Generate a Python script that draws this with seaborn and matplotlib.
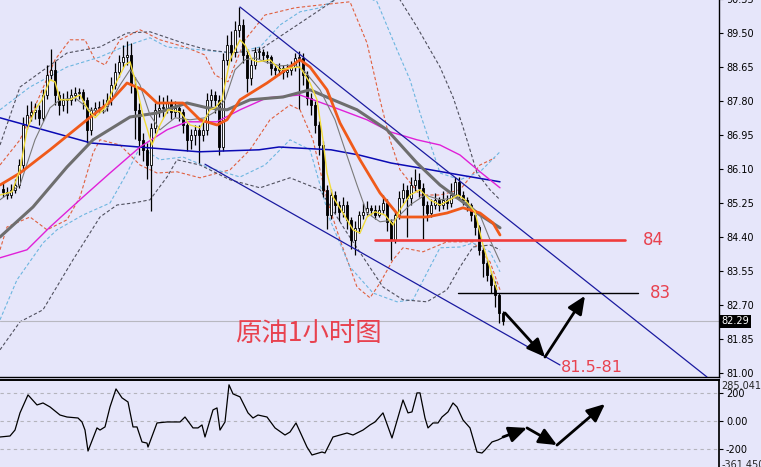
import matplotlib
matplotlib.use("Agg")
import matplotlib.pyplot as plt
import seaborn as sns

# -----------------------------
# Candles (crude oil, 1h) - bar index 0..125
# -----------------------------
open_first = 85.60
closes = [85.52, 85.45, 85.58, 85.70, 86.20, 87.20, 87.45, 87.52, 87.58, 87.38,
          87.95, 88.45, 88.58, 87.95, 87.70, 87.82, 87.82, 87.95, 88.00, 88.02,
          87.82, 87.07, 87.58, 87.62, 87.62, 87.68, 87.82, 88.20, 88.52, 88.78,
          88.90, 88.95, 88.20, 87.58, 86.82, 86.58, 86.20, 87.12, 87.58, 87.62,
          87.62, 87.75, 87.52, 87.62, 87.52, 87.20, 86.82, 86.95, 87.07, 86.95,
          87.07, 87.82, 87.95, 87.82, 86.65, 88.82, 89.20, 89.02, 89.58, 89.70,
          88.95, 88.38, 88.70, 89.02, 89.02, 88.95, 88.90, 88.62, 88.58, 88.62,
          88.52, 88.58, 88.65, 88.88, 88.88, 88.45, 87.88, 87.70, 87.20, 86.70,
          85.58, 84.95, 85.45, 85.20, 85.02, 85.20, 84.82, 84.32, 84.62, 84.95,
          85.02, 85.12, 85.08, 84.95, 85.08, 85.25, 84.78, 84.32, 84.95, 85.38,
          85.58, 85.38, 85.70, 85.82, 85.62, 85.20, 85.00, 85.20, 85.32, 85.20,
          85.32, 85.25, 85.45, 85.78, 85.45, 85.32, 85.20, 84.95, 84.65, 84.08,
          83.75, 83.45, 83.20, 82.95, 82.50, 82.29]
highs = [85.75, 85.65, 85.72, 85.85, 86.35, 87.40, 87.70, 87.80, 87.75, 87.70,
         88.10, 88.70, 89.10, 88.80, 88.05, 88.00, 88.05, 88.10, 88.15, 88.12,
         88.10, 87.90, 87.65, 87.78, 87.80, 87.85, 88.00, 88.40, 88.75, 88.95,
         89.20, 89.30, 89.25, 88.40, 87.75, 87.00, 86.75, 87.25, 87.75, 87.95,
         87.90, 87.95, 87.85, 87.80, 87.75, 87.60, 87.25, 87.10, 87.20, 87.20,
         87.30, 88.00, 88.10, 88.05, 87.95, 89.00, 89.45, 89.55, 89.80, 90.15,
         89.85, 89.05, 88.85, 89.15, 89.15, 89.10, 89.05, 88.95, 88.72, 88.75,
         88.70, 88.72, 88.80, 89.00, 89.05, 89.00, 88.55, 88.00, 87.80, 87.30,
         86.80, 85.70, 85.60, 85.55, 85.30, 85.40, 85.30, 84.90, 84.80, 85.05,
         85.25, 85.30, 85.20, 85.20, 85.20, 85.45, 85.35, 84.85, 85.05, 85.55,
         85.75, 85.70, 85.90, 86.10, 86.00, 85.75, 85.30, 85.35, 85.50, 85.40,
         85.55, 85.45, 85.75, 85.90, 85.90, 85.55, 85.40, 85.25, 85.05, 84.70,
         84.20, 83.85, 83.55, 83.30, 83.00, 82.55]
lows = [85.40, 85.35, 85.38, 85.50, 85.62, 86.10, 87.10, 87.30, 87.35, 87.20,
        87.30, 87.85, 88.35, 87.70, 87.45, 87.55, 87.50, 87.70, 87.80, 87.85,
        87.60, 86.75, 86.95, 87.45, 87.50, 87.50, 87.55, 87.70, 88.10, 88.40,
        88.65, 88.70, 88.00, 86.85, 86.45, 86.30, 85.85, 85.05, 87.00, 87.40,
        87.40, 87.50, 87.35, 87.40, 87.30, 87.00, 86.55, 86.60, 86.70, 86.25,
        86.80, 86.95, 87.65, 87.50, 86.45, 86.55, 88.70, 88.80, 88.90, 89.40,
        88.75, 88.02, 88.20, 88.60, 88.85, 88.80, 88.75, 88.45, 88.45, 88.45,
        88.35, 88.40, 88.45, 88.55, 87.60, 88.20, 87.70, 87.45, 87.00, 86.45,
        85.40, 84.60, 84.85, 85.00, 84.80, 84.90, 84.60, 84.10, 83.95, 84.50,
        84.85, 84.95, 84.95, 84.85, 84.90, 85.00, 84.55, 83.82, 84.25, 84.85,
        85.25, 84.40, 85.20, 85.55, 85.40, 84.35, 84.80, 84.90, 85.10, 85.05,
        85.10, 85.10, 85.15, 85.40, 85.35, 85.20, 85.05, 84.80, 84.45, 83.95,
        83.40, 83.30, 83.00, 82.65, 82.25, 82.20]

# -----------------------------
# Moving averages (bar index, price)
# -----------------------------
yellow_x = [-0.75, 2.25, 4.25, 6, 8, 9.75, 11.75, 13, 14.25, 16.75, 19.25, 21.25, 23, 25.5, 28,
            30.5, 31.75, 33, 35, 37.25, 39.25, 41.25, 44.25, 46.75, 49.25, 51.75, 53, 54.75,
            56.75, 59.25, 60.5, 62.25, 63.75, 66.75, 69.25, 72.25, 74.25, 76.75, 78.5, 80, 81,
            82.5, 85, 87.5, 89.25, 91, 93, 95.5, 97.5, 99.25, 101.75, 104.25, 106.75, 109.25,
            111.75, 113.75, 115.5, 118, 120, 121.75, 123.5]
yellow_y = [85.45, 85.53, 86.08, 87.08, 87.58, 87.83, 88.33, 88.28, 87.83, 87.83, 87.95, 87.58,
            87.38, 87.63, 88.20, 88.70, 88.78, 88.33, 87.45, 86.70, 87.20, 87.58, 87.53, 87.20,
            87.13, 87.58, 87.63, 87.83, 88.83, 89.33, 89.20, 88.83, 88.78, 88.83, 88.58, 88.63,
            88.65, 88.25, 87.83, 86.83, 86.00, 85.40, 85.00, 84.58, 84.50, 84.90, 85.03, 84.95,
            84.70, 85.08, 85.45, 85.58, 85.33, 85.20, 85.33, 85.45, 85.33, 85.03, 84.20, 83.63,
            83.08]

thin_x = [-0.75, 4.25, 8, 11.75, 14.25, 18, 21.75, 25.5, 29.25, 31.75, 34.25, 36.75, 39.25, 43,
          46.75, 50.5, 53, 55.5, 58, 60.5, 63, 65.5, 69.25, 73, 75.5, 79.25, 83, 85.5, 88.5, 91,
          94.25, 98, 101.75, 105.5, 109.25, 113, 116.75, 119.25, 121.75, 124.25]
thin_y = [85.33, 85.70, 86.83, 87.63, 87.83, 87.88, 87.58, 87.53, 88.20, 88.58, 88.20, 87.45,
          87.08, 87.38, 87.33, 87.38, 87.53, 87.83, 88.58, 88.83, 88.88, 88.78, 88.68, 88.70,
          88.53, 88.08, 87.33, 86.58, 85.70, 85.00, 84.78, 84.83, 85.20, 85.45, 85.33, 85.38,
          85.20, 84.95, 84.33, 83.78]

orange_x = [-0.75, 4.25, 11.75, 21, 26.75, 31, 35, 38.5, 45, 49.25, 53.5, 56, 59.25, 66, 74.25,
            76.75, 81, 84.25, 89.25, 94.25, 99.25, 106, 111, 115, 119.25, 122.5, 124.25]
orange_y = [85.70, 86.00, 86.58, 87.33, 87.78, 88.25, 88.08, 87.75, 87.75, 87.33, 87.20, 87.33,
            87.83, 88.25, 88.83, 88.65, 88.08, 87.25, 86.33, 85.50, 84.90, 84.90, 85.00, 85.13,
            85.00, 84.75, 84.45]

gray_x = [-0.75, 7.5, 16, 22.5, 31.75, 38.5, 46, 51, 56, 61.75, 70, 76.75, 82.5, 88.5, 96,
          103.5, 109.25, 114.25, 119.25, 124.25]
gray_y = [84.40, 85.15, 86.15, 86.83, 87.40, 87.50, 87.75, 87.63, 87.58, 87.83, 87.90, 88.08,
          87.83, 87.58, 87.08, 86.25, 85.70, 85.33, 84.95, 84.63]

magenta_x = [-0.75, 6, 11.75, 20, 26.75, 34.25, 41, 46, 53.5, 59.25, 66, 74.25, 82.5, 91,
             96.75, 103.5, 109.25, 114.25, 119.25, 124.25]
magenta_y = [83.88, 84.08, 84.65, 85.40, 86.00, 86.65, 87.08, 87.28, 87.28, 87.58, 87.88,
             87.95, 87.65, 87.33, 87.03, 86.83, 86.70, 86.45, 86.03, 85.63]

blue_x = [-0.75, 22, 34, 49, 64, 69, 82, 89, 97, 104, 114.25, 124.25]
blue_y = [87.38, 86.75, 86.65, 86.53, 86.58, 86.65, 86.58, 86.45, 86.25, 86.13, 85.95, 85.78]

# -----------------------------
# Envelope bands (dashed)
# -----------------------------
red_up_x = [-0.75, 4.25, 9.25, 13, 16.75, 20.5, 23, 25.5, 29.25, 34.25, 39.25, 45.5, 50.5, 53,
            56.25, 60.5, 65.5, 73, 79.25, 86.75, 91, 94.25, 96.75, 99.25, 104.25, 109.25,
            114.25, 119.25, 123]
red_up_y = [86.20, 86.83, 87.95, 88.83, 89.33, 89.33, 88.83, 88.70, 89.33, 89.58, 89.33, 89.15,
            88.95, 88.45, 88.28, 89.33, 89.95, 90.13, 90.20, 90.28, 89.25, 87.83, 86.83, 86.08,
            85.45, 85.45, 85.58, 86.20, 86.38]
red_lo_x = [-0.75, 1, 6.75, 11, 16, 19.25, 22.5, 24.25, 29.25, 34.25, 38.5, 43.5, 49.25, 56.75,
            61.75, 66.75, 71.75, 74.25, 77.5, 81, 84.25, 88.5, 91.75, 94.25, 97.5, 100, 105,
            111, 117.5, 121.75, 124.25]
red_lo_y = [84.08, 84.65, 84.90, 84.58, 84.83, 85.40, 86.50, 86.83, 86.70, 86.20, 86.00, 86.03,
            85.88, 86.08, 86.58, 87.33, 87.70, 87.58, 86.83, 85.33, 84.33, 83.15, 82.88, 83.25,
            83.83, 84.13, 84.03, 84.28, 84.28, 83.78, 83.08]

cyan_up_x = [-0.75, 6.75, 16, 24.25, 30, 36.75, 41, 49.25, 57.5, 64.25, 69.25, 74.25, 79.25,
             87.5, 93.5, 98.5, 101.75, 104.25, 106.75, 109.25, 114.25, 119.25, 124.25]
cyan_up_y = [87.58, 88.15, 88.65, 88.90, 89.15, 89.38, 89.15, 89.08, 89.00, 89.15, 89.70, 90.03,
             90.13, 90.58, 90.28, 89.08, 88.33, 87.50, 86.75, 86.00, 85.83, 86.03, 86.53]
cyan_lo_x = [-0.75, 3.5, 10, 13.5, 20, 26.75, 31, 34.25, 39.25, 45, 51, 59.25, 65.5, 71.75,
             76.75, 81.75, 86.75, 92.5, 98.5, 102.5, 106.75, 109.25, 114.25, 117.5, 121.75, 124.25]
cyan_lo_y = [82.33, 83.33, 84.25, 84.58, 84.95, 85.25, 86.00, 86.65, 86.33, 86.40, 86.15, 85.90,
             86.20, 86.83, 86.58, 84.83, 83.65, 83.00, 82.78, 82.83, 83.65, 84.13, 84.15, 84.25,
             84.03, 83.53]

dark_up_x = [-0.75, 4.25, 16, 24.25, 31, 36.75, 45, 51, 57.5, 64.25, 71.75, 79.25, 86.75, 95.5,
             99.25, 103.5, 109.25, 112.5, 115, 116.75, 118.5, 121.75, 124.25]
dark_up_y = [86.70, 88.15, 89.00, 89.15, 89.50, 89.53, 89.25, 89.08, 89.00, 89.08, 89.58, 90.08,
             90.58, 90.58, 90.33, 89.65, 88.65, 87.90, 87.15, 86.58, 86.00, 85.58, 85.33]
dark_lo_x = [-0.75, 4.25, 10, 17.5, 24.25, 28.5, 32.5, 36.75, 41, 43.5, 49.25, 56.75, 64.25,
             71.75, 79.25, 85.5, 91, 95, 100, 106, 111, 114.25, 117.5, 121.75, 124.25]
dark_lo_y = [81.58, 82.28, 82.58, 83.83, 84.90, 85.20, 85.25, 85.33, 85.90, 86.33, 86.20, 85.83,
             85.63, 85.88, 85.58, 84.58, 83.75, 83.15, 82.83, 82.78, 83.08, 83.65, 84.15, 84.20,
             84.08]

# -----------------------------
# Oscillator (lower panel)
# -----------------------------
cci_x = [-0.75, 1.75, 3, 4.25, 6.25, 8.5, 10, 11.75, 14.25, 16, 18.75, 19.75, 20.5, 21.25, 23.5,
         24.25, 25.5, 26.75, 28.25, 29.75, 31.25, 32.5, 33.5, 34.75, 36, 36.25, 38.5, 41, 44.25,
         45.5, 47.5, 48.75, 49.75, 50.5, 52.5, 53.5, 54.25, 55.5, 56.5, 57.5, 59.25, 61.25, 62.5,
         63.75, 66, 68, 70.5, 71.75, 73.25, 76, 77.25, 79.75, 80.5, 82.5, 86, 87.5, 90, 91.75,
         93, 95, 97.25, 100, 101.25, 102.25, 103.5, 104.25, 105.5, 106.25, 107.5, 108.75,
         109.75, 111.25, 112.5, 113.5, 115, 116.75, 118.5, 119.75, 120.5, 122.25, 123.75, 124.75]
cci_v = [-113, -106, -64, 57, 184, 113, 127, 99, 42, 28, 21, -7, -64, -212, -49, -64, -42, 99,
         226, 163, 134, -42, -42, -148, -156, -184, -14, -7, -7, 28, -49, -49, -28, -113, 78, 92,
         -64, -7, 255, 191, 170, 57, 21, 42, 28, -49, -99, -78, -14, -184, -240, -219, -226,
         -113, -85, -99, -64, -28, -7, 57, -120, 148, 57, 64, 198, 198, 21, -49, -14, -14, 28,
         64, 127, 99, 7, -49, -219, -226, -205, -148, -134, -120]

# -----------------------------
# Annotations
# -----------------------------
last_price = 82.29
support_84 = 84.33
level_83 = 83.00
upper_channel = ([59.25, 176.0], [90.15, 80.90])
lower_channel = ([50.5, 139.25], [86.22, 81.20])
arrow_main = [(125.5, 82.50), (135.5, 81.40), (145.5, 82.93)]
arrow_osc = [(125, -113), (131, -49), (138.5, -170), (150.5, 120)]
price_ticks = [81.00, 81.85, 82.70, 83.55, 84.40, 85.25, 86.10, 86.95, 87.80, 88.65, 89.50, 90.35]
osc_ticks = [200, 0, -200]
osc_labels = ["200", "0.00", "-200"]

BG = "#e6e6fa"
sns.set_theme(style="white")
plt.rcParams["font.family"] = ["DejaVu Sans", "Noto Sans CJK SC"]

fig = plt.figure(figsize=(7.61, 4.67), dpi=100, facecolor=BG)
ax = fig.add_axes([0.0, 90 / 467, 719 / 761, 382 / 467], facecolor=BG)
ax2 = fig.add_axes([0.0, -4.3 / 467, 719 / 761, 91.3 / 467], facecolor=BG)

# bands
dash = (0, (3, 2))
for bx, by, col in [(red_up_x, red_up_y, "#e0603f"), (red_lo_x, red_lo_y, "#e0603f"),
                    (cyan_up_x, cyan_up_y, "#6db6e0"), (cyan_lo_x, cyan_lo_y, "#6db6e0"),
                    (dark_up_x, dark_up_y, "#50505e"), (dark_lo_x, dark_lo_y, "#50505e")]:
    sns.lineplot(x=bx, y=by, ax=ax, color=col, lw=0.8, linestyle=dash,
                 sort=False, estimator=None, zorder=1)

# candles
idx = list(range(len(closes)))
opens = [open_first] + closes[:-1]
ax.vlines(idx, lows, highs, color="black", lw=0.9, zorder=2)
body_low = [min(o, c) for o, c in zip(opens, closes)]
body_h = [max(abs(c - o), 0.025) for o, c in zip(opens, closes)]
body_col = ["white" if c >= o else "black" for o, c in zip(opens, closes)]
ax.bar(idx, body_h, bottom=body_low, width=0.72, color=body_col,
       edgecolor="black", linewidth=0.6, zorder=2)

# moving averages
sns.lineplot(x=blue_x, y=blue_y, ax=ax, color="#0a0ab4", lw=1.1, sort=False, estimator=None, zorder=3)
sns.lineplot(x=magenta_x, y=magenta_y, ax=ax, color="#e020d8", lw=1.0, sort=False, estimator=None, zorder=3)
sns.lineplot(x=gray_x, y=gray_y, ax=ax, color="#6e6e6e", lw=2.2, sort=False, estimator=None, zorder=3)
sns.lineplot(x=thin_x, y=thin_y, ax=ax, color="#7a7a7a", lw=0.8, sort=False, estimator=None, zorder=3)
sns.lineplot(x=orange_x, y=orange_y, ax=ax, color="#f05a1a", lw=2.0, sort=False, estimator=None, zorder=4)
sns.lineplot(x=yellow_x, y=yellow_y, ax=ax, color="#f2dc3a", lw=1.0, sort=False, estimator=None, zorder=4)

# channel, levels, price line
ax.plot(*upper_channel, color="#1a1aa0", lw=0.9, zorder=3)
ax.plot(*lower_channel, color="#1a1aa0", lw=0.9, zorder=3)
ax.axhline(last_price, color="#b8b8c0", lw=0.8, zorder=1)
ax.plot([93, 155.5], [support_84, support_84], color="#f03c3c", lw=1.9, zorder=5)
ax.plot([113.75, 158.75], [level_83, level_83], color="black", lw=1.0, zorder=5)
ax.text(160.0, support_84, "84", color="#e8424f", fontsize=12, va="center", ha="left")
ax.text(161.8, level_83, "83", color="#e8424f", fontsize=12, va="center", ha="left")
ax.text(139.5, 81.15, "81.5-81", color="#e8424f", fontsize=11.5, va="center", ha="left")
ax.text(58, 82.0, "原油1小时图", color="#e8424f", fontsize=19, va="center", ha="left",
        family=["Noto Sans CJK SC"])

arrow_kw = dict(arrowstyle="-|>,head_length=0.9,head_width=0.4", color="black", lw=2.0,
                shrinkA=0, shrinkB=0)
for a, b in zip(arrow_main[:-1], arrow_main[1:]):
    ax.annotate("", xy=b, xytext=a, arrowprops=arrow_kw, zorder=6)

ax.set_xlim(-0.75, 179)
ax.set_ylim(80.9, 90.45)
ax.set_xticks([])
ax.yaxis.tick_right()
ax.set_yticks(price_ticks)
ax.set_yticklabels([f"{t:.2f}" for t in price_ticks])
ax.tick_params(axis="y", length=3, width=0.8, pad=2, labelsize=7, colors="black", right=True)
for s in ["left", "top"]:
    ax.spines[s].set_visible(False)
ax.spines["right"].set_color("black")
ax.spines["bottom"].set_color("black")
ax.spines["right"].set_linewidth(1.0)
ax.spines["bottom"].set_linewidth(1.0)
ax.set_xlabel("")
ax.set_ylabel("")
ax.text(1.003, last_price, f"{last_price:.2f}", transform=ax.get_yaxis_transform(),
        color="white", fontsize=7, va="center", ha="left",
        bbox=dict(facecolor="black", edgecolor="none", pad=1.2), zorder=7)

# lower panel
for lv in osc_ticks:
    ax2.axhline(lv, color="#b4b4bc", lw=0.8, linestyle=(0, (3, 3)), zorder=1)
sns.lineplot(x=cci_x, y=cci_v, ax=ax2, color="black", lw=0.9, sort=False, estimator=None, zorder=3)
for a, b in zip(arrow_osc[:-1], arrow_osc[1:]):
    ax2.annotate("", xy=b, xytext=a, arrowprops=arrow_kw, zorder=6)
ax2.set_xlim(-0.75, 179)
ax2.set_ylim(-355, 289)
ax2.set_xticks([])
ax2.yaxis.tick_right()
ax2.set_yticks(osc_ticks)
ax2.set_yticklabels(osc_labels)
ax2.tick_params(axis="y", length=3, width=0.8, pad=2, labelsize=7, colors="black", right=True)
for s in ["left", "bottom"]:
    ax2.spines[s].set_visible(False)
ax2.spines["right"].set_color("black")
ax2.spines["top"].set_color("black")
ax2.spines["top"].set_linewidth(1.4)
ax2.text(1.003, 250, "285.0419", transform=ax2.get_yaxis_transform(), fontsize=7,
         va="center", ha="left")
ax2.text(1.003, -312, "-361.450", transform=ax2.get_yaxis_transform(), fontsize=7,
         va="center", ha="left")
ax2.set_xlabel("")
ax2.set_ylabel("")

fig.savefig("out.png", dpi=100, facecolor=BG)
